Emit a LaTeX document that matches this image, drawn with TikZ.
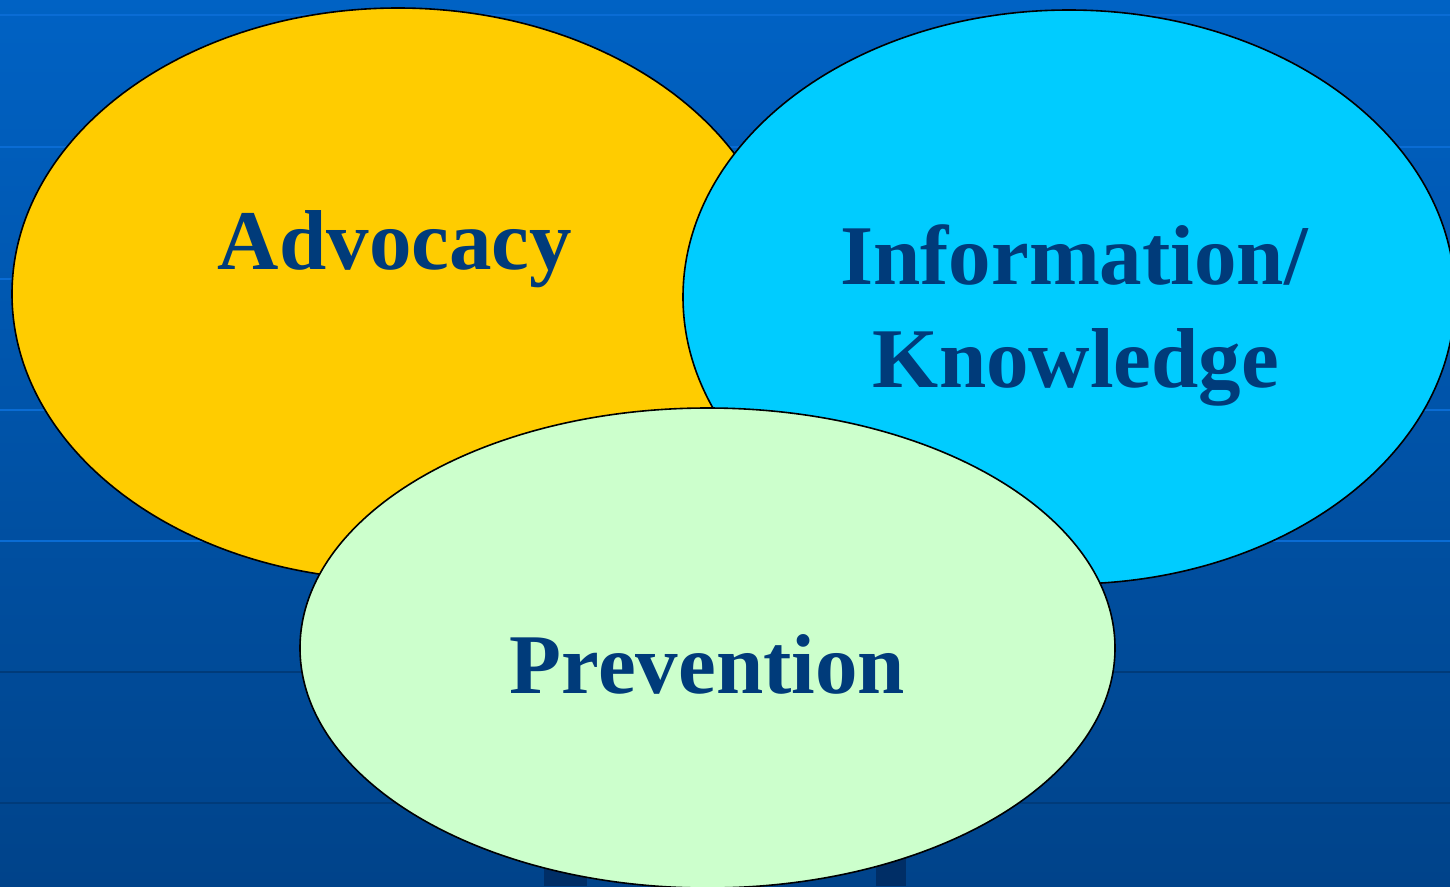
\documentclass[tikz,border=0pt]{standalone}
\usepackage{fontspec}
\setmainfont{Liberation Serif}
\usetikzlibrary{shapes.geometric}
\definecolor{bgtop}{HTML}{0062C4}
\definecolor{bgbot}{HTML}{00438A}
\definecolor{lightline}{HTML}{0A6CD4}
\definecolor{darkline}{HTML}{003B7A}
\definecolor{darkbar}{HTML}{002E66}
\definecolor{yel}{HTML}{FFCC00}
\definecolor{cya}{HTML}{00CCFF}
\definecolor{grn}{HTML}{CCFFCC}
\definecolor{txt}{HTML}{003B7A}
\tikzset{
  blob/.style={draw=black, line width=1.6pt},
  label/.style={font=\fontsize{85}{102}\selectfont\bfseries, text=txt, inner sep=0pt, anchor=base},
  lightrule/.style={draw=lightline, line width=2pt},
  darkrule/.style={draw=darkline, line width=2pt}
}
\begin{document}
\begin{tikzpicture}[x=1pt,y=-1pt]
\useasboundingbox (0,0) rectangle (1450,886);
\shade[top color=bgtop, bottom color=bgbot] (0,0) rectangle (1450,886);
\foreach \yy in {15,147,279,410,541} \draw[lightrule] (0,\yy) -- (1450,\yy);
\foreach \yy in {672,803} \draw[darkrule] (0,\yy) -- (1450,\yy);
\fill[darkbar] (544,840) rectangle (587,886);
\fill[darkbar] (876,840) rectangle (906,886);
\draw[blob, fill=yel] (398,294) ellipse [x radius=386, y radius=286];
\draw[blob, fill=cya] (1069,297) ellipse [x radius=386, y radius=287];
\draw[blob, fill=grn] (707.5,648) ellipse [x radius=407.5, y radius=240];
\node[label] (adv) at (395,269) {Advocacy};
\node[label] (info) at (1074,284) {Information/};
\node[label] (know) at (1076,387) {Knowledge};
\node[label] (prev) at (707.5,693) {Prevention};
\end{tikzpicture}
\end{document}
